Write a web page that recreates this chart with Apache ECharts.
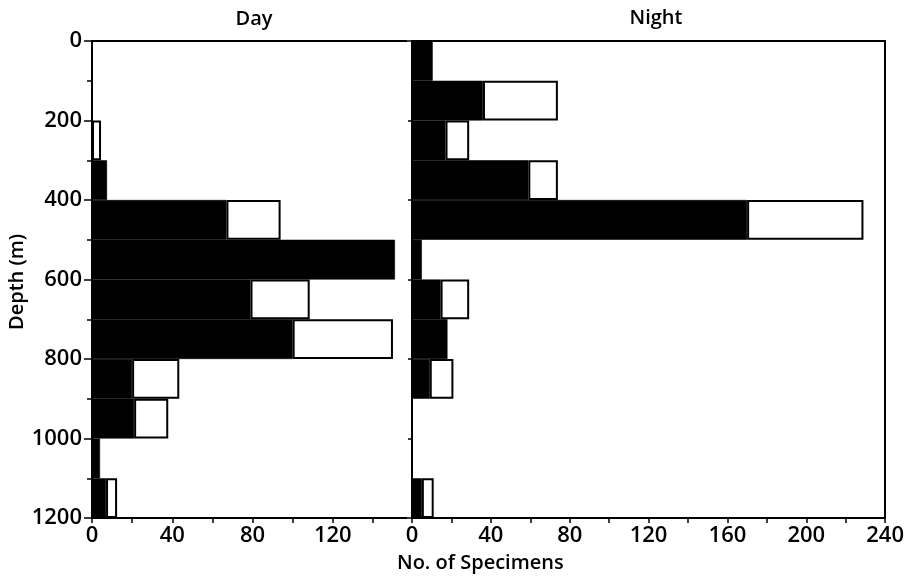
<!DOCTYPE html>
<html>
<head>
<meta charset="utf-8">
<script src="https://cdn.jsdelivr.net/npm/echarts@6/dist/echarts.min.js"></script>
<style>html,body{margin:0;padding:0;background:#fff}#c{width:907px;height:581px}</style>
</head>
<body>
<div id="c"></div>
<script>
// Depth bins (m), top to bottom
const depthBins = ['0-100','100-200','200-300','300-400','400-500','500-600','600-700','700-800','800-900','900-1000','1000-1100','1100-1200'];
const depthTicks = [0, 200, 400, 600, 800, 1000, 1200];
const dayTickLabels = [0, 40, 80, 120];
const nightTickLabels = [0, 40, 80, 120, 160, 200, 240];

// Day: black (filled) portion and open (white) portion stacked on it
const dayFilled = [0, 0, 0, 7.5, 67, 151, 79, 100, 20, 21, 4, 7];
const dayOpen   = [null, null, 4.5, null, 27, null, 29.5, 50, 23.5, 17, null, 5.5];
// Night
const nightFilled = [10.5, 36, 17, 59, 170, 5, 14.5, 18, 9, 0, 0, 5];
const nightOpen   = [null, 38, 12, 15, 59, null, 14.5, null, 12, null, null, 6];

const FONT = 'Open Sans';
const labelStyle = {color: '#000', fontFamily: FONT, fontWeight: 600, fontSize: 22, formatter: v => String(v)};
const lineStyle = {color: '#000', width: 2};

function valueX(gridIndex, max, labels, position, showAll) {
  const ticks = [];
  for (let v = 0; v <= max; v += 20) ticks.push(v);
  return {
    type: 'value', gridIndex, min: 0, max, position,
    axisLine: {show: true, onZero: false, lineStyle},
    axisTick: {show: showAll, length: 5, inside: false, lineStyle: {color: '#000', width: 1.5}, customValues: ticks},
    axisLabel: {show: showAll, margin: 7, ...labelStyle, customValues: labels},
    splitLine: {show: false}
  };
}

const option = {
  animation: false,
  backgroundColor: '#fff',
  title: [
    {text: 'Day', left: 249, top: 4, textAlign: 'center', textStyle: {fontFamily: FONT, fontWeight: 600, fontSize: 20, color: '#000'}},
    {text: 'Night', left: 651, top: 3, textAlign: 'center', textStyle: {fontFamily: FONT, fontWeight: 600, fontSize: 20, color: '#000'}}
  ],
  grid: [
    {left: 92, top: 41, width: 315, height: 477},
    {left: 412, top: 41, width: 479, height: 477}
  ],
  xAxis: [
    valueX(0, 157, dayTickLabels, 'bottom', true),
    valueX(1, 240, nightTickLabels, 'bottom', true),
    valueX(0, 157, dayTickLabels, 'top', false),
    valueX(1, 240, nightTickLabels, 'top', false)
  ],
  yAxis: [
    // category axes for bars
    {type: 'category', gridIndex: 0, data: depthBins, inverse: true, show: false},
    {type: 'category', gridIndex: 1, data: depthBins, inverse: true, show: false},
    // visible depth axis (left panel)
    {type: 'value', gridIndex: 0, min: 0, max: 1200, interval: 200, inverse: true, position: 'left',
     axisLine: {show: true, onZero: false, lineStyle},
     axisTick: {show: true, length: 8, lineStyle: {color: '#000', width: 1.5}},
     minorTick: {show: true, splitNumber: 2, length: 5, lineStyle: {color: '#000', width: 1.5}},
     axisLabel: {margin: 10, ...labelStyle, customValues: depthTicks},
     splitLine: {show: false}},
    // right panel left border with ticks
    {type: 'value', gridIndex: 1, min: 0, max: 1200, interval: 200, inverse: true, position: 'left',
     axisLine: {show: true, onZero: false, lineStyle},
     axisTick: {show: true, length: 4, lineStyle: {color: '#000', width: 1.5}},
     axisLabel: {show: false}, splitLine: {show: false}},
    // right panel right border
    {type: 'value', gridIndex: 1, min: 0, max: 1200, inverse: true, position: 'right',
     axisLine: {show: true, onZero: false, lineStyle},
     axisTick: {show: false}, axisLabel: {show: false}, splitLine: {show: false}}
  ],
  graphic: [
    {type: 'text', left: 397, top: 553, style: {text: 'No. of Specimens', fill: '#000', font: '600 20px "' + FONT + '"'}},
    {type: 'text', x: 7, y: 330, rotation: Math.PI / 2, style: {text: 'Depth (m)', fill: '#000', font: '600 20px "' + FONT + '"'}}
  ],
  series: [
    {type: 'bar', name: 'dayFilled', xAxisIndex: 0, yAxisIndex: 0, stack: 'day', data: dayFilled,
     barCategoryGap: '0%', itemStyle: {color: '#000', borderColor: '#000', borderWidth: 0.6}},
    {type: 'bar', name: 'dayOpen', xAxisIndex: 0, yAxisIndex: 0, stack: 'day', data: dayOpen,
     barCategoryGap: '0%', itemStyle: {color: '#fff', borderColor: '#000', borderWidth: 2}},
    {type: 'bar', name: 'nightFilled', xAxisIndex: 1, yAxisIndex: 1, stack: 'night', data: nightFilled,
     barCategoryGap: '0%', itemStyle: {color: '#000', borderColor: '#000', borderWidth: 0.6}},
    {type: 'bar', name: 'nightOpen', xAxisIndex: 1, yAxisIndex: 1, stack: 'night', data: nightOpen,
     barCategoryGap: '0%', itemStyle: {color: '#fff', borderColor: '#000', borderWidth: 2}}
  ]
};

const chart = echarts.init(document.getElementById('c'), null, {renderer: 'canvas'});
chart.setOption(option);
</script>
</body>
</html>
